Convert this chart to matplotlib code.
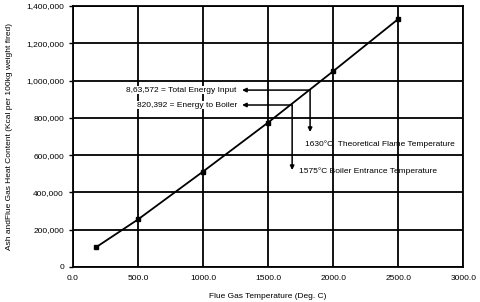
import matplotlib
matplotlib.use("Agg")
import matplotlib.pyplot as plt

plt.rcParams['font.family'] = ['Liberation Sans', 'DejaVu Sans']

temps = [180, 500, 1000, 1500, 2000, 2500]
heat = [107000, 255000, 512000, 775000, 1050000, 1330000]

xticks = [0, 500, 1000, 1500, 2000, 2500, 3000]
yticks = [0, 200000, 400000, 600000, 800000, 1000000, 1200000, 1400000]

total_label = "8,63,572 = Total Energy Input"
boiler_label = "820,392 = Energy to Boiler"
flame_label = "1630\u00b0C  Theoretical Flame Temperature"
entrance_label = "1575\u00b0C Boiler Entrance Temperature"

# annotation anchors (data coords)
total_pt = (1823, 949000)
boiler_pt = (1685, 869000)
total_drop = 724000
boiler_drop = 520000
arrow_left = 1300

fig = plt.figure(figsize=(4.8, 3.02), dpi=100)
ax = fig.add_axes([0.152, 0.116, 0.813, 0.864])

ax.plot(temps, heat, color='black', lw=1.3, marker='s', ms=3, zorder=3)

ax.set_xlim(0, 3000)
ax.set_ylim(0, 1400000)
ax.set_xticks(xticks)
ax.set_xticklabels([f"{v:.1f}" for v in xticks])
ax.set_yticks(yticks)
ax.set_yticklabels([f"{v:,}" for v in yticks])
ax.grid(True, color='black', lw=1.3)
for s in ax.spines.values():
    s.set_linewidth(1.3)
ax.tick_params(axis='both', labelsize=6, length=3, width=1, color='black')
ax.tick_params(axis='x', length=0, pad=6)

ax.set_xlabel("Flue Gas Temperature (Deg. C)", fontsize=6, labelpad=8)
ax.set_ylabel("Ash andFlue Gas Heat Content (Kcal per 100kg weight fired)", fontsize=6, labelpad=9)

ap = dict(arrowstyle='-|>', color='black', lw=1.1, mutation_scale=6, shrinkA=0, shrinkB=0)
# Total energy
ax.annotate('', xy=(arrow_left, total_pt[1]), xytext=total_pt, arrowprops=ap)
ax.annotate('', xy=(total_pt[0], total_drop), xytext=total_pt, arrowprops=ap)
# Boiler
ax.annotate('', xy=(arrow_left, boiler_pt[1]), xytext=boiler_pt, arrowprops=ap)
ax.annotate('', xy=(boiler_pt[0], boiler_drop), xytext=boiler_pt, arrowprops=ap)

ax.text(1260, total_pt[1], total_label, fontsize=6, ha='right', va='center',
        bbox=dict(facecolor='white', edgecolor='none', pad=0.5))
ax.text(1260, boiler_pt[1], boiler_label, fontsize=6, ha='right', va='center',
        bbox=dict(facecolor='white', edgecolor='none', pad=0.5))
ax.text(1780, 660000, flame_label, fontsize=6, ha='left', va='center')
ax.text(1740, 515000, entrance_label, fontsize=6, ha='left', va='center')

fig.savefig("out.png", dpi=100)
